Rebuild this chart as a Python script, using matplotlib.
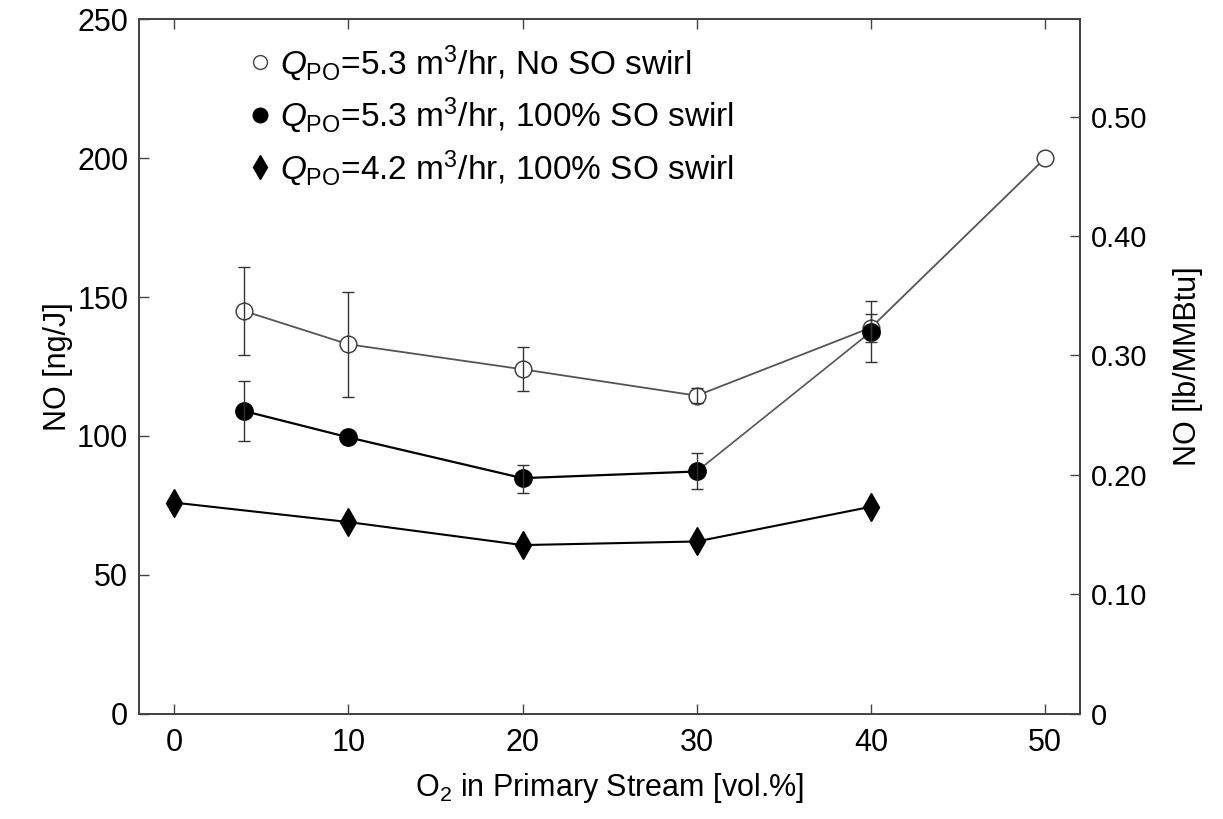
import matplotlib
matplotlib.use("Agg")
import matplotlib.pyplot as plt
from matplotlib import font_manager
from matplotlib.lines import Line2D

# ---------------- data ----------------
o2_open = [4, 10, 20, 30, 40, 50]
no_open = [145, 133, 124, 114.5, 139, 200]
err_open_lo = [16, 19, 8, 2.6, 5, 0]
err_open_hi = [16, 19, 8, 2.6, 5, 0]

o2_fill = [4, 10, 20, 30, 40]
no_fill = [109, 99.5, 84.8, 87.2, 137.5]
err_fill_lo = [10.8, 0, 5.4, 6.4, 11]
err_fill_hi = [10.8, 0, 4.8, 6.8, 11]

o2_dia = [0, 10, 20, 30, 40]
no_dia = [76, 69, 60.7, 62, 74.5]

labels = [r"$\mathit{Q}_{\mathrm{PO}}$=5.3 m$^3$/hr, No SO swirl",
          r"$\mathit{Q}_{\mathrm{PO}}$=5.3 m$^3$/hr, 100% SO swirl",
          r"$\mathit{Q}_{\mathrm{PO}}$=4.2 m$^3$/hr, 100% SO swirl"]

xticks = [0, 10, 20, 30, 40, 50]
yticks_left = [0, 50, 100, 150, 200, 250]
yticks_right = [0, 0.10, 0.20, 0.30, 0.40, 0.50]
yticklabels_right = ["0", "0.10", "0.20", "0.30", "0.40", "0.50"]
conv = 430.0  # ng/J per lb/MMBtu

# ---------------- fonts ----------------
names = {f.name for f in font_manager.fontManager.ttflist}
narrow = "Liberation Sans Narrow" if "Liberation Sans Narrow" in names else "Liberation Sans"
plt.rcParams["font.family"] = [narrow, "DejaVu Sans"]
plt.rcParams["mathtext.fontset"] = "custom"
plt.rcParams["mathtext.rm"] = narrow
plt.rcParams["mathtext.it"] = narrow + ":italic"
plt.rcParams["mathtext.bf"] = narrow + ":bold"

spine_c = "#444444"
fig = plt.figure(figsize=(12.23, 8.19), dpi=100)
ax = fig.add_axes([0.1139, 0.1286, 0.7692, 0.8478])

# lines
ax.plot(o2_open, no_open, color="#555555", lw=1.3, zorder=2)
ax.plot(o2_fill[:4], no_fill[:4], color="black", lw=1.6, zorder=2)
ax.plot(o2_fill[3:], no_fill[3:], color="#555555", lw=1.2, zorder=2)
ax.plot(o2_dia, no_dia, color="black", lw=1.5, zorder=2)

# markers
ax.plot(o2_open, no_open, ls="none", marker="o", ms=12, mfc="white",
        mec="#444444", mew=1.1, zorder=3)
ax.plot(o2_fill, no_fill, ls="none", marker="o", ms=12.5, mfc="black",
        mec="black", zorder=3)
ax.plot(o2_dia, no_dia, ls="none", marker="d", ms=14, mfc="black",
        mec="black", zorder=3)

# error bars (only where an error was reported)
def with_err(xs, ys, lo, hi):
    keep = [i for i in range(len(xs)) if lo[i] > 0 or hi[i] > 0]
    return ([xs[i] for i in keep], [ys[i] for i in keep],
            [[lo[i] for i in keep], [hi[i] for i in keep]])

for xs, ys, lo, hi in [(o2_open, no_open, err_open_lo, err_open_hi),
                       (o2_fill, no_fill, err_fill_lo, err_fill_hi)]:
    ex, ey, eyerr = with_err(xs, ys, lo, hi)
    ax.errorbar(ex, ey, yerr=eyerr, fmt="none", ecolor="#333333",
                elinewidth=1.0, capsize=4.5, capthick=1.0, zorder=4)

ax.set_xlim(-2, 52)
ax.set_ylim(0, 250)
ax.set_xticks(xticks)
ax.set_yticks(yticks_left)
ax.tick_params(axis="both", direction="in", length=7, width=1.0, color=spine_c,
               labelsize=22, top=True, right=False, pad=10)
ax.tick_params(axis="y", pad=8)
for s in ax.spines.values():
    s.set_color(spine_c)
    s.set_linewidth(1.3)

ax.set_xlabel(r"O$_2$ in Primary Stream [vol.%]", fontsize=22, labelpad=10)
ax.set_ylabel("NO [ng/J]", fontsize=22, labelpad=3)

# right axis
ax2 = ax.twinx()
ax2.set_ylim(0, 250 / conv)
ax2.set_yticks(yticks_right)
ax2.set_yticklabels(yticklabels_right, family=["Liberation Sans", "DejaVu Sans"])
ax2.tick_params(axis="y", direction="in", length=7, width=1.0, color=spine_c,
                labelsize=21, pad=8)
for s in ax2.spines.values():
    s.set_color(spine_c)
    s.set_linewidth(1.3)
ax2.set_ylabel("NO [lb/MMBtu]", fontsize=22, labelpad=18)

# legend
handles = [
    Line2D([], [], ls="none", marker="o", ms=10, mfc="white", mec="#444444", mew=1.0),
    Line2D([], [], ls="none", marker="o", ms=10.5, mfc="black", mec="black"),
    Line2D([], [], ls="none", marker="d", ms=12, mfc="black", mec="black"),
]
ax.legend(handles, labels, loc="upper left", bbox_to_anchor=(0.104, 0.985),
          frameon=False, fontsize=24, handlelength=0.55, handletextpad=0.35,
          labelspacing=0.38, borderaxespad=0)

fig.savefig("out.png", dpi=100)
